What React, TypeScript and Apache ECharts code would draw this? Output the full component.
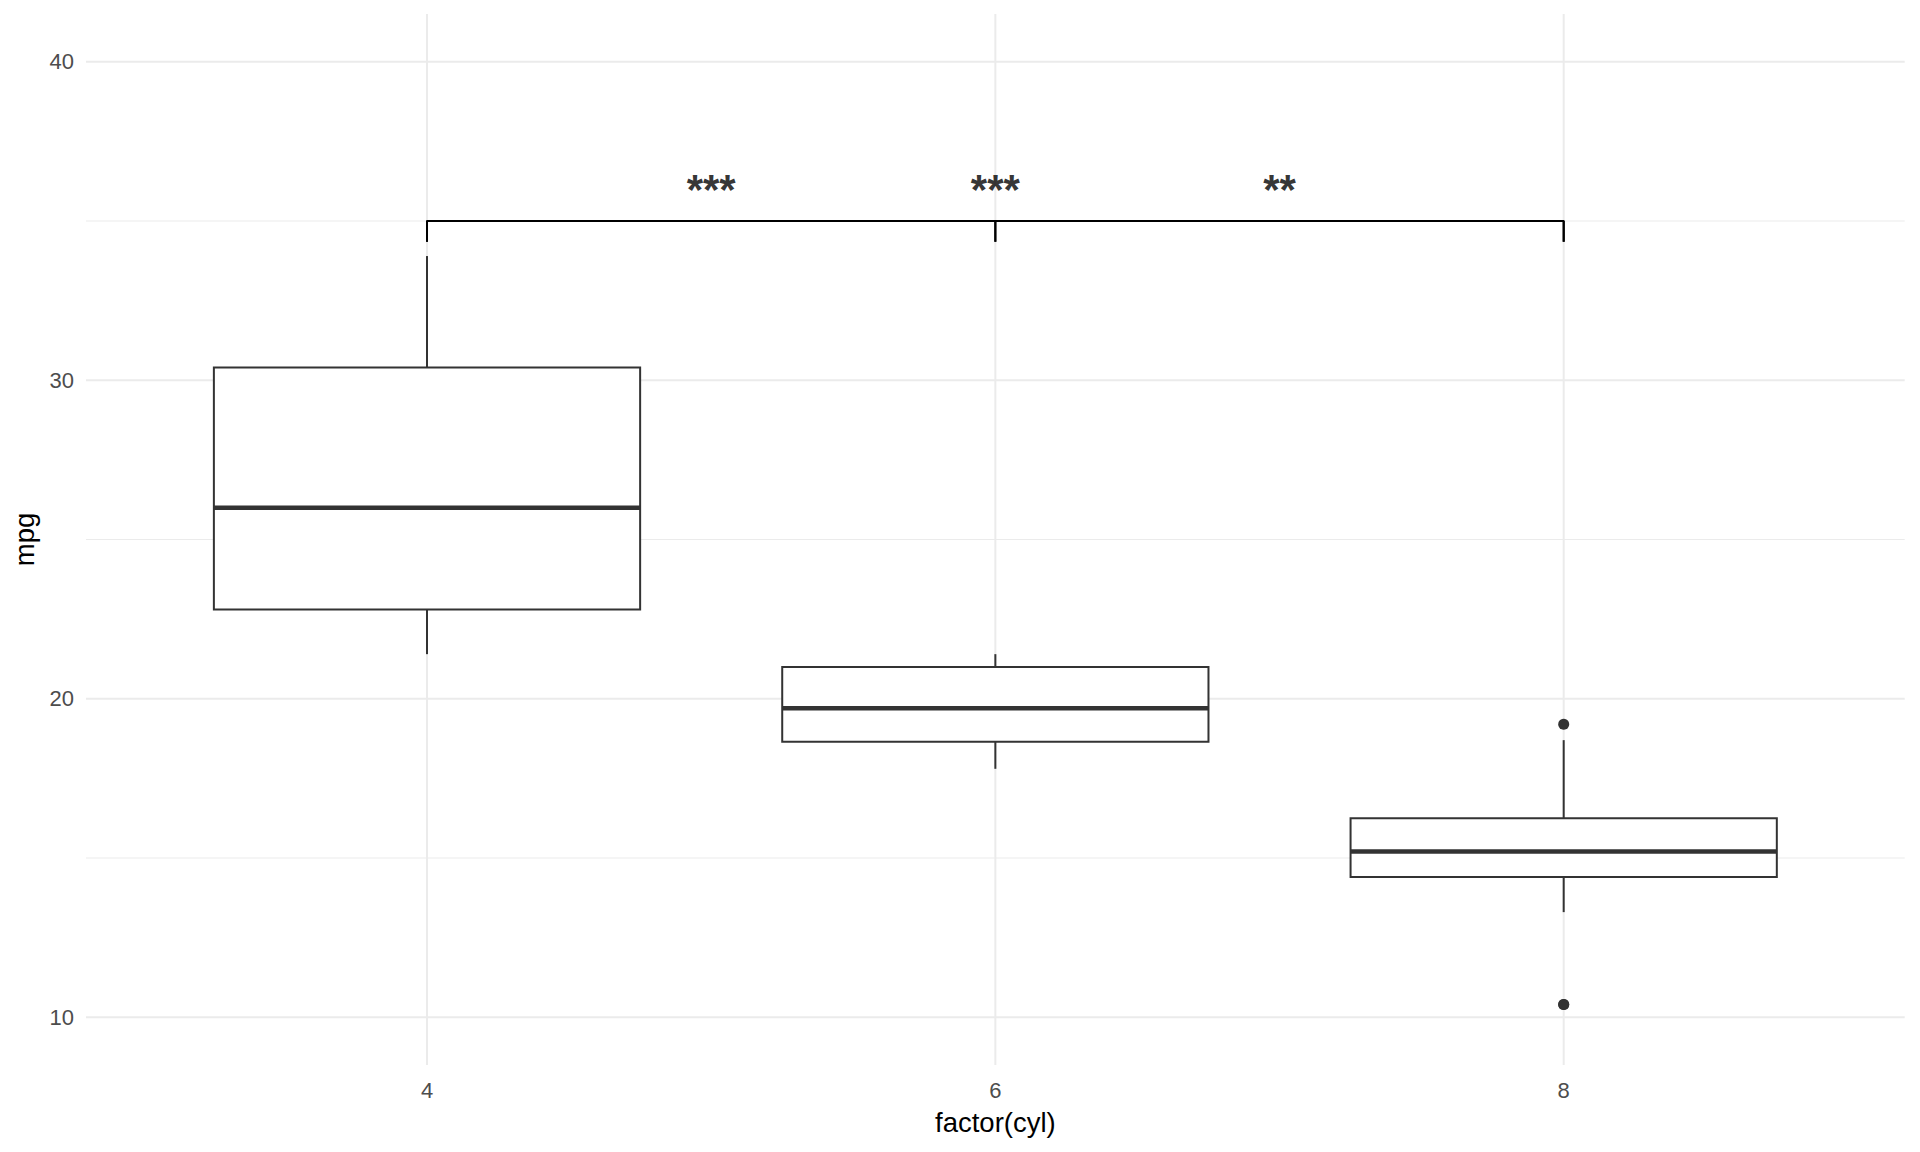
import React, { useEffect, useRef } from "react";
import * as echarts from "echarts";

// ---- data ----
const categories = ["4", "6", "8"];
const categoryPos = [1, 2, 3];
const lowerWhisker = [21.4, 17.8, 13.3];
const q1 = [22.8, 18.65, 14.4];
const median = [26.0, 19.7, 15.2];
const q3 = [30.4, 21.0, 16.25];
const upperWhisker = [33.9, 21.4, 18.7];
const outliers: [number, number][] = [
  [3, 10.4],
  [3, 10.4],
  [3, 19.2],
];
const majorY = [10, 20, 30, 40];
const minorY = [15, 25, 35];
const signifPairs: [number, number][] = [
  [1, 2],
  [1, 3],
  [2, 3],
];
const signifLabels = ["***", "***", "**"];
const bracketY = 35;
const tipY = 34.35;
const labelY = 36.0;

const FONT = "'Liberation Sans', Arial, Helvetica, sans-serif";

export default function App() {
  const ref = useRef<HTMLDivElement>(null);
  useEffect(() => {
    if (!ref.current) return;
    const chart = echarts.init(ref.current, undefined, { renderer: "svg" });

    // gridline data: [x, y, kind] kind 0 = major horizontal, 1 = minor horizontal, 2 = vertical
    const gridData: number[][] = [
      ...majorY.map((v) => [1, v, 0]),
      ...minorY.map((v) => [1, v, 1]),
      ...categoryPos.map((p) => [p, 20, 2]),
    ];

    const boxData = categoryPos.map((p, i) => [
      p,
      lowerWhisker[i],
      q1[i],
      median[i],
      q3[i],
      upperWhisker[i],
    ]);

    const bracketSeries = signifPairs.map(([a, b]) => ({
      type: "line",
      data: [
        [a, tipY],
        [a, bracketY],
        [b, bracketY],
        [b, tipY],
      ],
      symbol: "none",
      silent: true,
      z: 6,
      lineStyle: { color: "#000000", width: 2 },
    }));

    const option: any = {
      animation: false,
      backgroundColor: "#ffffff",
      grid: { left: 86, right: 15.3, top: 14, bottom: 87 },
      xAxis: {
        type: "value",
        min: 0.4,
        max: 3.6,
        axisLine: { show: false },
        axisTick: { show: false },
        splitLine: { show: false },
        axisLabel: {
          customValues: categoryPos,
          formatter: (v: number) => {
            const i = categoryPos.indexOf(Math.round(v * 1000) / 1000);
            return i >= 0 ? categories[i] : "";
          },
          color: "#4D4D4D",
          fontSize: 22,
          fontFamily: FONT,
          margin: 14.5,
        },
        name: "factor(cyl)",
        nameLocation: "middle",
        nameGap: 43.5,
        nameTextStyle: { color: "#000000", fontSize: 27.5, fontFamily: FONT },
      },
      yAxis: {
        type: "value",
        min: 8.5,
        max: 41.5,
        axisLine: { show: false },
        axisTick: { show: false },
        splitLine: { show: false },
        axisLabel: {
          customValues: majorY,
          color: "#4D4D4D",
          fontSize: 22,
          fontFamily: FONT,
          margin: 12,
        },
        name: "mpg",
        nameLocation: "middle",
        nameGap: 45,
        nameTextStyle: { color: "#000000", fontSize: 27.5, fontFamily: FONT },
      },
      series: [
        {
          type: "custom",
          silent: true,
          z: 0,
          data: gridData,
          clip: true,
          renderItem: (params: any, api: any) => {
            const cs = params.coordSys;
            const kind = api.value(2);
            if (kind === 2) {
              const x = api.coord([api.value(0), 20])[0];
              return {
                type: "line",
                shape: { x1: x, y1: cs.y, x2: x, y2: cs.y + cs.height },
                style: { stroke: "#EBEBEB", lineWidth: 2 },
              };
            }
            const y = api.coord([1, api.value(1)])[1];
            return {
              type: "line",
              shape: { x1: cs.x, y1: y, x2: cs.x + cs.width, y2: y },
              style: { stroke: "#EBEBEB", lineWidth: kind === 0 ? 2 : 1 },
            };
          },
        },
        {
          type: "custom",
          silent: true,
          z: 5,
          data: boxData,
          renderItem: (params: any, api: any) => {
            const x = api.value(0);
            const lo = api.coord([x, api.value(1)]);
            const b1 = api.coord([x, api.value(2)]);
            const md = api.coord([x, api.value(3)]);
            const b3 = api.coord([x, api.value(4)]);
            const hi = api.coord([x, api.value(5)]);
            const w = api.size([0.75, 0])[0];
            const cx = md[0];
            const stroke = "#333333";
            return {
              type: "group",
              children: [
                {
                  type: "line",
                  shape: { x1: cx, y1: b3[1], x2: cx, y2: hi[1] },
                  style: { stroke, lineWidth: 2 },
                },
                {
                  type: "line",
                  shape: { x1: cx, y1: b1[1], x2: cx, y2: lo[1] },
                  style: { stroke, lineWidth: 2 },
                },
                {
                  type: "rect",
                  shape: { x: cx - w / 2, y: b3[1], width: w, height: b1[1] - b3[1] },
                  style: { fill: "#ffffff", stroke, lineWidth: 2 },
                },
                {
                  type: "line",
                  shape: { x1: cx - w / 2, y1: md[1], x2: cx + w / 2, y2: md[1] },
                  style: { stroke, lineWidth: 4.5 },
                },
              ],
            };
          },
        },
        {
          type: "scatter",
          data: outliers,
          symbol: "circle",
          symbolSize: 11,
          silent: true,
          z: 6,
          itemStyle: { color: "#333333", opacity: 1 },
        },
        ...bracketSeries,
        {
          type: "scatter",
          silent: true,
          z: 7,
          symbolSize: 1,
          itemStyle: { color: "rgba(0,0,0,0)" },
          data: signifPairs.map(([a, b], i) => [(a + b) / 2, labelY, signifLabels[i]]),
          label: {
            show: true,
            position: "inside",
            formatter: (p: any) => p.data[2],
            color: "#000000",
            fontSize: 42,
            fontWeight: "bold",
            fontFamily: FONT,
            align: "center",
            verticalAlign: "middle",
          },
        },
      ],
    };
    chart.setOption(option);
    return () => chart.dispose();
  }, []);
  return (
    <div
      ref={ref}
      style={{
        position: "fixed",
        left: 0,
        top: 0,
        width: "1920px",
        height: "1152px",
        background: "#ffffff",
      }}
    />
  );
}
